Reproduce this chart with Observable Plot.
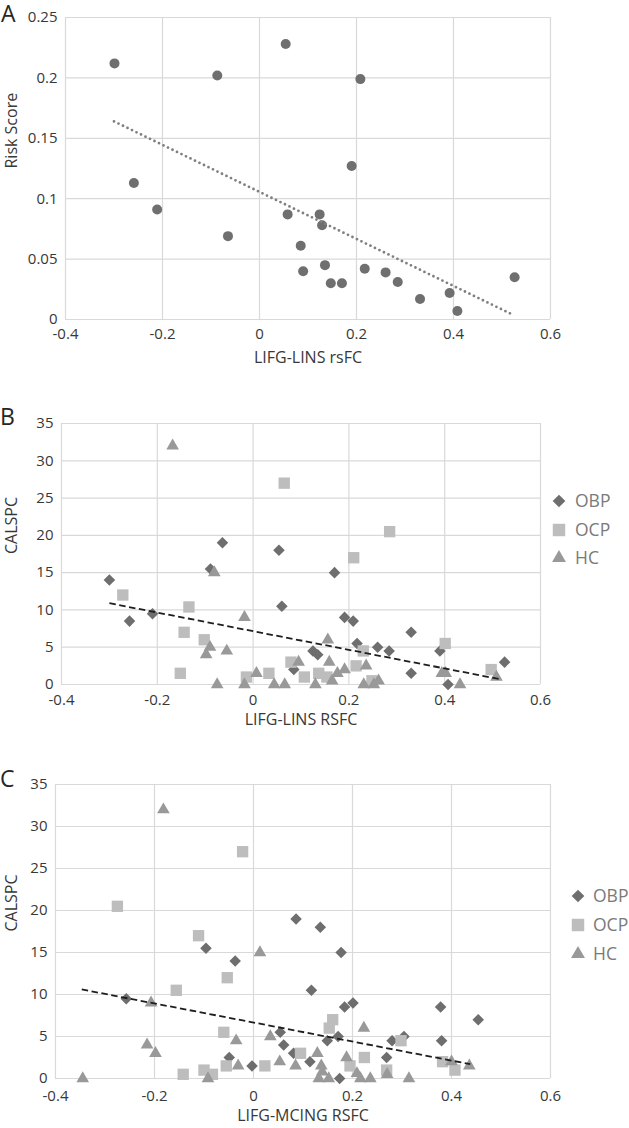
<!DOCTYPE html>
<html><head><meta charset="utf-8">
<script src="https://cdn.jsdelivr.net/npm/d3@7"></script>
<script src="https://cdn.jsdelivr.net/npm/@observablehq/plot@0.6"></script>
<style>
body{margin:0;background:#fff;}
#wrap{position:relative;width:629px;height:1128px;overflow:hidden;font-family:"Open Sans",sans-serif;background:#fff;}
.panel{position:absolute;left:0;}
.letter{position:absolute;font-size:23px;color:#262626;line-height:1;font-family:"Open Sans",sans-serif;}
.legend{position:absolute;left:0;}
</style></head><body><div id="wrap"></div>
<script>
// ---------- Panel A data ----------
const riskX = [-0.299,-0.087,0.054,-0.259,0.208,0.190,-0.211,-0.065,0.058,0.085,0.090,0.124,0.129,0.135,0.147,0.170,0.217,0.260,0.285,0.331,0.392,0.408,0.526];
const riskY = [0.212,0.202,0.228,0.113,0.199,0.127,0.091,0.069,0.087,0.061,0.040,0.087,0.078,0.045,0.030,0.030,0.042,0.039,0.031,0.017,0.022,0.007,0.035];
const trendAX = [-0.30, 0.52];
const trendAY = [0.164, 0.0044];

// ---------- Panel B data (LIFG-LINS RSFC vs CALSPC) ----------
const bObpX = [-0.064,0.054,-0.089,0.170,-0.300,-0.258,-0.210,0.060,0.191,0.209,0.330,0.217,0.260,0.284,0.390,0.125,0.135,0.525,0.330,0.407,0.085];
const bObpY = [19,18,15.5,15,14,8.5,9.5,10.5,9,8.5,7,5.5,5,4.5,4.5,4.5,4,3,1.5,0,2];
const bOcpX = [0.065,0.285,0.210,-0.272,-0.134,-0.144,-0.102,-0.152,-0.014,0.033,0.079,0.107,0.137,0.154,0.230,0.401,0.497,0.215,0.248];
const bOcpY = [27,20.5,17,12,10.4,7,6,1.5,1,1.5,3,1,1.5,1,4.5,5.5,2,2.5,0.5];
const bHcX = [-0.168,-0.081,-0.018,-0.090,-0.098,-0.055,-0.075,-0.018,0.007,0.044,0.066,0.095,0.130,0.156,0.236,0.394,0.402,0.508,0.432,0.231,0.252,0.262,0.159,0.176,0.191,0.165];
const bHcY = [32,15,9,5,4,4.5,0,0,1.5,0,0,3,0,6,2.5,1.5,1.5,1,0,0,0,0.5,3,1.5,2,0.5];
const trendBX = [-0.30, 0.516];
const trendBY = [10.9, 0.7];

// ---------- Panel C data (LIFG-MCING RSFC vs CALSPC) ----------
const cObpX = [0.086,0.135,-0.096,0.177,-0.037,-0.257,0.117,0.054,0.061,0.081,-0.049,-0.003,0.114,0.184,0.201,0.378,0.454,0.149,0.171,0.280,0.304,0.380,0.269,0.174];
const cObpY = [19,18,15.5,15,14,9.5,10.5,5.5,4,3,2.5,1.5,2,8.5,9,8.5,7,4.5,5,4.5,5,4.5,2.5,0];
const cOcpX = [-0.022,-0.275,-0.111,-0.053,-0.156,-0.060,0.095,-0.055,0.023,-0.142,-0.100,-0.083,0.160,0.153,0.298,0.224,0.195,0.269,0.382,0.407];
const cOcpY = [27,20.5,17,12,10.5,5.5,3,1.5,1.5,0.5,1,0.5,7,6,4.5,2.5,1.5,1,2,1];
const cHcX = [-0.182,0.013,-0.207,-0.035,0.034,-0.215,-0.198,0.129,-0.031,0.053,0.085,-0.092,-0.345,0.132,0.223,0.137,0.188,0.270,0.209,0.152,0.139,0.216,0.236,0.314,0.400,0.436];
const cHcY = [32,15,9,4.5,5,4,3,3,1.5,2,1.5,0,0,0,6,1.5,2.5,0.5,0.6,0,0.8,0,0,0,2,1.5];
const trendCX = [-0.347, 0.438];
const trendCY = [10.6, 1.7];

// ---------- Ticks & labels ----------
const xTicks = [-0.4,-0.2,0,0.2,0.4,0.6];
const xTickLabels = ["-0.4","-0.2","0","0.2","0.4","0.6"];
const yTicksA = [0,0.05,0.1,0.15,0.2,0.25];
const yTickLabelsA = ["0","0.05","0.1","0.15","0.2","0.25"];
const yTicksBC = [0,5,10,15,20,25,30,35];
const yTickLabelsBC = ["0","5","10","15","20","25","30","35"];
const groups = ["OBP","OCP","HC"];

// ---------- styles ----------
const GRID = "#d9d9d9";
const TXT = "#383838";
const groupStyle = {
  OBP: {symbol: "diamond2", fill: "#6e6e6e", r: 5.2, d3sym: d3.symbolDiamond2},
  OCP: {symbol: "square", fill: "#bdbdbd", r: 6.4, d3sym: d3.symbolSquare},
  HC:  {symbol: "triangle", fill: "#999999", r: 4.7, d3sym: d3.symbolTriangle}
};

const zip = (xs, ys) => xs.map((x, i) => ({x, y: ys[i]}));
const wrap = document.getElementById("wrap");

function panel(o) {
  const xMap = new Map(xTicks.map((t, i) => [t, xTickLabels[i]]));
  const yMap = new Map(o.yTicks.map((t, i) => [t, o.yLabels[i]]));
  const marks = [
    Plot.ruleX(xTicks, {stroke: GRID, strokeWidth: 1.2}),
    Plot.ruleY(o.yTicks, {stroke: GRID, strokeWidth: 1.2}),
    Plot.axisX({ticks: xTicks, tickSize: 0, tickPadding: o.tickPadX, tickFormat: d => xMap.get(d), label: null, fontSize: 15}),
    Plot.axisY({ticks: o.yTicks, tickSize: 0, tickPadding: 8, tickFormat: d => yMap.get(d), label: null, fontSize: 15}),
  ];
  for (const s of o.series) {
    marks.push(Plot.dot(s.data, {x: "x", y: "y", symbol: s.symbol, r: s.r, fill: s.fill, stroke: "none"}));
  }
  marks.push(Plot.line(o.trend, {x: "x", y: "y", stroke: o.trendStroke, strokeWidth: o.trendWidth, strokeDasharray: o.trendDash, strokeLinecap: o.trendCap}));
  marks.push(Plot.text([o.xTitle], {frameAnchor: "bottom", dy: o.xTitleDy, fontSize: 16, fill: TXT}));
  marks.push(Plot.text([o.yTitle], {frameAnchor: "left", dx: o.yTitleDx, rotate: -90, fontSize: 16, fill: TXT}));
  const chart = Plot.plot({
    width: 629, height: o.height,
    marginLeft: o.ml, marginRight: o.mr, marginTop: o.mt, marginBottom: o.mb,
    style: {fontFamily: "'Open Sans', sans-serif", fontSize: "15px", color: TXT, background: "transparent", overflow: "visible"},
    x: {domain: [-0.4, 0.6], label: null},
    y: {domain: o.yDomain, label: null},
    marks
  });
  const div = document.createElement("div");
  div.className = "panel";
  div.style.top = o.top + "px";
  div.appendChild(chart);
  wrap.appendChild(div);
}

function letter(t, left, top) {
  const d = document.createElement("div");
  d.className = "letter";
  d.textContent = t;
  d.style.left = left + "px";
  d.style.top = top + "px";
  wrap.appendChild(d);
}

function legend(x, ys, textX) {
  const svg = d3.create("svg").attr("width", 629).attr("height", 1128)
    .style("position", "absolute").style("left", 0).style("top", 0).style("pointer-events", "none");
  groups.forEach((g, i) => {
    const st = groupStyle[g];
    const size = Math.PI * Math.pow(st.r * 1.1, 2);
    svg.append("path").attr("d", d3.symbol(st.d3sym, size)())
      .attr("transform", `translate(${x},${ys[i]})`).attr("fill", st.fill);
    svg.append("text").attr("x", textX).attr("y", ys[i]).attr("dy", "0.36em")
      .attr("font-family", "'Open Sans', sans-serif").attr("font-size", 17.5)
      .attr("fill", "#7a7a7a").text(g);
  });
  wrap.appendChild(svg.node());
}

function groupSeries(obp, ocp, hc) {
  return [
    {data: obp, ...groupStyle.OBP},
    {data: ocp, ...groupStyle.OCP},
    {data: hc, ...groupStyle.HC}
  ];
}

// Panel A
panel({
  top: 0, height: 370, ml: 65, mr: 79, mt: 17, mb: 51,
  yTicks: yTicksA, yLabels: yTickLabelsA, yDomain: [0, 0.25],
  series: [{data: zip(riskX, riskY), symbol: "circle", r: 5, fill: "#6f6f6f"}],
  trend: zip(trendAX, trendAY), trendStroke: "#7f7f7f", trendWidth: 2.8, trendDash: "0,5", trendCap: "round",
  xTitle: "LIFG-LINS rsFC", yTitle: "Risk Score", xTitleDy: 43, yTitleDx: -54, tickPadX: 9
});
// Panel B
panel({
  top: 370, height: 380, ml: 61, mr: 89, mt: 53, mb: 66,
  yTicks: yTicksBC, yLabels: yTickLabelsBC, yDomain: [0, 35],
  series: groupSeries(zip(bObpX, bObpY), zip(bOcpX, bOcpY), zip(bHcX, bHcY)),
  trend: zip(trendBX, trendBY), trendStroke: "#1e1e1e", trendWidth: 1.8, trendDash: "6.5,3.5", trendCap: "butt",
  xTitle: "LIFG-LINS RSFC", yTitle: "CALSPC", xTitleDy: 40.5, yTitleDx: -50, tickPadX: 10
});
// Panel C
panel({
  top: 750, height: 378, ml: 55, mr: 79, mt: 34, mb: 50,
  yTicks: yTicksBC, yLabels: yTickLabelsBC, yDomain: [0, 35],
  series: groupSeries(zip(cObpX, cObpY), zip(cOcpX, cOcpY), zip(cHcX, cHcY)),
  trend: zip(trendCX, trendCY), trendStroke: "#1e1e1e", trendWidth: 1.8, trendDash: "6.5,3.5", trendCap: "butt",
  xTitle: "LIFG-MCING RSFC", yTitle: "CALSPC", xTitleDy: 42, yTitleDx: -44, tickPadX: 11.5
});

letter("A", 1, 2);
letter("B", 0, 405);
letter("C", 0, 767);
legend(559, [501, 530, 558], 575);
legend(578, [896, 925, 954], 593);
</script></body></html>
